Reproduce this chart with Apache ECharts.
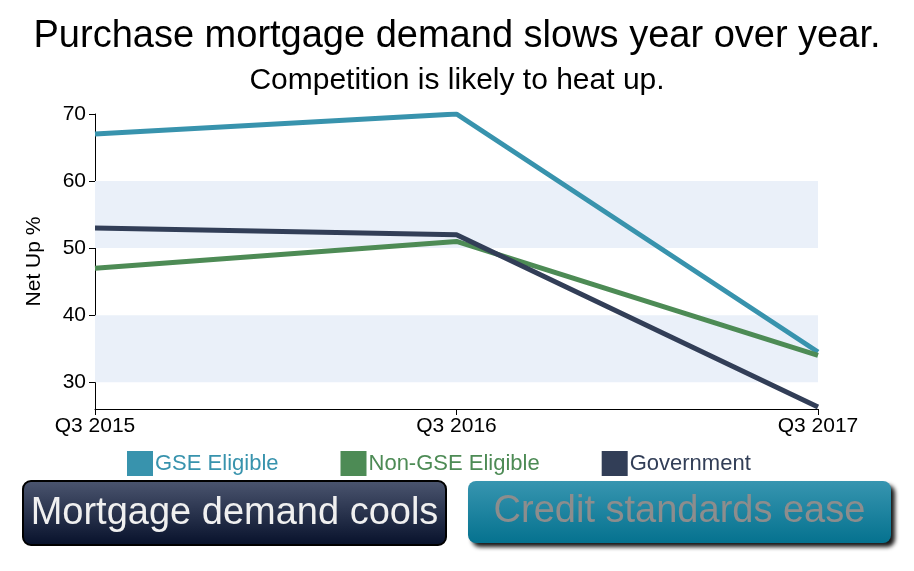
<!DOCTYPE html>
<html>
<head>
<meta charset="utf-8">
<script src="https://cdn.jsdelivr.net/npm/echarts@6/dist/echarts.min.js"></script>
<style>
  html, body { margin: 0; padding: 0; background: #fff; }
  #chart { width: 914px; height: 571px; }
</style>
</head>
<body>
<div id="chart"></div>
<script>
// data
const quarters = ["Q3 2015", "Q3 2016", "Q3 2017"];
const gseEligible = [67, 70, 34.5];
const nonGseEligible = [47, 51, 34];
const government = [53, 52, 26.3];
const yTicks = [30, 40, 50, 60, 70];
const shadedBands = [[30, 40], [50, 60]];

const font = "'Liberation Sans', Arial, Helvetica, sans-serif";
const colors = { gse: "#3893ad", non: "#4d8b55", gov: "#323e57" };

const chart = echarts.init(document.getElementById("chart"));

function lineSeries(name, data, color, extra) {
  return Object.assign({
    name: name,
    type: "line",
    data: data,
    symbol: "none",
    lineStyle: { color: color, width: 5 },
    itemStyle: { color: color },
    z: 3
  }, extra || {});
}

const option = {
  animation: false,
  textStyle: { fontFamily: font },
  title: [
    {
      text: "Purchase mortgage demand slows year over year.",
      left: "center", top: 13,
      textStyle: { fontFamily: font, fontSize: 38, fontWeight: "normal", color: "#000" }
    },
    {
      text: "Competition is likely to heat up.",
      left: "center", top: 61,
      textStyle: { fontFamily: font, fontSize: 30, fontWeight: "normal", color: "#000" }
    }
  ],
  legend: {
    left: 122, top: 446,
    icon: "rect",
    itemWidth: 26, itemHeight: 25,
    itemGap: 62,
    selectedMode: false,
    textStyle: { fontFamily: font, fontSize: 22, padding: [0, 0, 0, -3] },
    data: [
      { name: "GSE Eligible", textStyle: { color: colors.gse } },
      { name: "Non-GSE Eligible", textStyle: { color: colors.non } },
      { name: "Government", textStyle: { color: colors.gov } }
    ]
  },
  grid: { left: 95, right: 96, top: 114, bottom: 162 },
  xAxis: {
    type: "category",
    data: quarters,
    boundaryGap: false,
    axisLine: { lineStyle: { color: "#000", width: 1 } },
    axisTick: { show: true, alignWithLabel: true, length: 6, lineStyle: { color: "#000" } },
    axisLabel: { color: "#000", fontSize: 21, fontFamily: font, margin: 7 },
    splitLine: { show: false }
  },
  yAxis: {
    type: "value",
    min: 26, max: 70,
    name: "Net Up %",
    nameLocation: "middle",
    nameGap: 50,
    nameRotate: 90,
    nameTextStyle: { color: "#000", fontSize: 21, fontFamily: font },
    axisLine: { show: true, lineStyle: { color: "#000", width: 1 } },
    axisTick: { show: true, length: 6, lineStyle: { color: "#000" }, customValues: yTicks },
    axisLabel: { color: "#000", fontSize: 21, fontFamily: font, margin: 9, customValues: yTicks },
    splitLine: { show: false }
  },
  series: [
    lineSeries("GSE Eligible", gseEligible, colors.gse, {
      markArea: {
        silent: true,
        itemStyle: { color: "#eaf0f9" },
        data: shadedBands.map(b => [{ yAxis: b[0] }, { yAxis: b[1] }])
      }
    }),
    lineSeries("Non-GSE Eligible", nonGseEligible, colors.non),
    lineSeries("Government", government, colors.gov)
  ],
  graphic: [
    {
      type: "group", left: 22, top: 480,
      children: [
        {
          type: "rect",
          shape: { x: 0, y: 0, width: 423, height: 64, r: 8 },
          style: {
            fill: new echarts.graphic.LinearGradient(0, 0, 0, 1, [
              { offset: 0, color: "#4c5670" },
              { offset: 1, color: "#06102a" }
            ]),
            stroke: "#000", lineWidth: 2
          }
        },
        {
          type: "text",
          x: 211.5, y: 33,
          style: {
            text: "Mortgage demand cools",
            fill: "#f0f0f0", font: "38px " + font,
            align: "center", verticalAlign: "middle"
          }
        }
      ]
    },
    {
      type: "group", left: 468, top: 481,
      children: [
        {
          type: "rect",
          shape: { x: 0, y: 0, width: 423, height: 62, r: 8 },
          style: {
            fill: new echarts.graphic.LinearGradient(0, 0, 0, 1, [
              { offset: 0, color: "#3795b0" },
              { offset: 1, color: "#05728f" }
            ]),
            shadowColor: "rgba(0,0,0,0.9)", shadowBlur: 4,
            shadowOffsetX: 4, shadowOffsetY: 4
          }
        },
        {
          type: "text",
          x: 211.5, y: 31,
          style: {
            text: "Credit standards ease",
            fill: "#8d8d8d", font: "38px " + font,
            align: "center", verticalAlign: "middle"
          }
        }
      ]
    }
  ]
};

chart.setOption(option);
</script>
</body>
</html>
